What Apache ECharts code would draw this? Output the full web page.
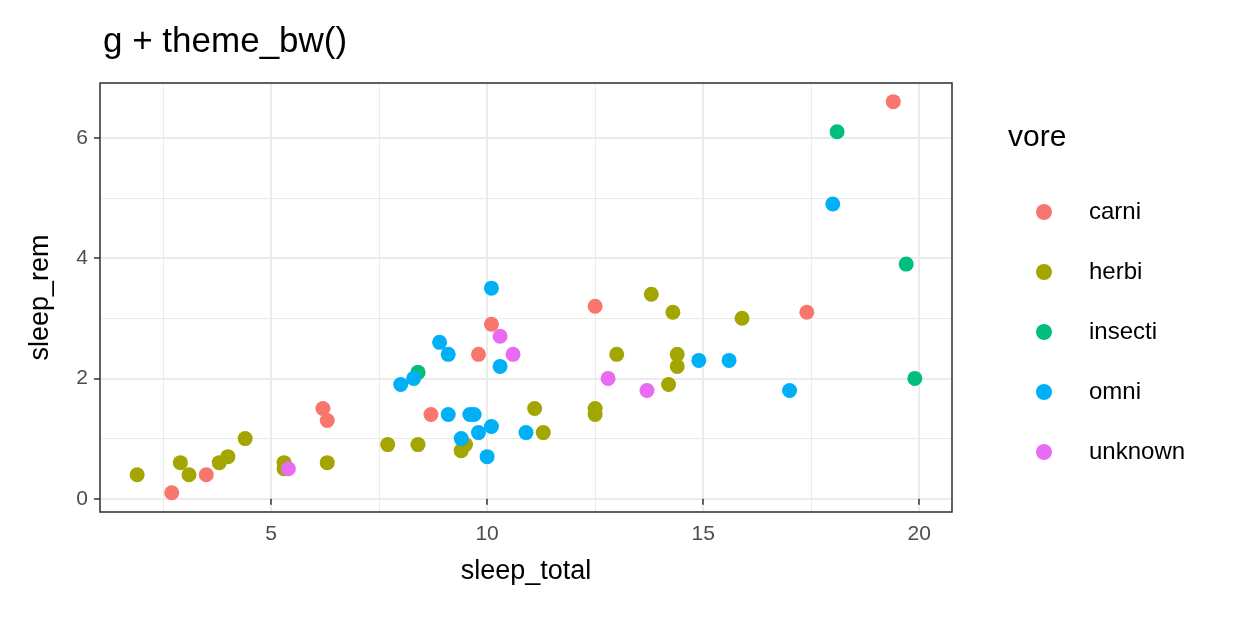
<!DOCTYPE html>
<html>
<head>
<meta charset="utf-8">
<script src="https://cdn.jsdelivr.net/npm/echarts@6/dist/echarts.min.js"></script>
<style>html,body{margin:0;background:#fff}#chart{width:1250px;height:625px}</style>
</head>
<body>
<div id="chart"></div>
<script>
// sleep_total, sleep_rem per vore group
const carni = [[2.7,0.1],[3.5,0.4],[6.2,1.5],[6.3,1.3],[8.7,1.4],[9.8,2.4],[10.1,2.9],[12.5,3.2],[17.4,3.1],[19.4,6.6]];
const herbi = [[1.9,0.4],[2.9,0.6],[3.1,0.4],[3.8,0.6],[4.0,0.7],[4.4,1.0],[5.3,0.6],[5.3,0.5],[6.3,0.6],[7.7,0.9],[8.4,0.9],[8.4,2.1],[9.4,0.8],[9.5,0.9],[11.1,1.5],[11.3,1.1],[12.5,1.5],[12.5,1.4],[13.0,2.4],[13.8,3.4],[14.2,1.9],[14.3,3.1],[14.4,2.4],[14.4,2.2],[15.9,3.0]];
const insecti = [[8.4,2.1],[18.1,6.1],[19.7,3.9],[19.9,2.0]];
const omni = [[8.0,1.9],[8.3,2.0],[8.9,2.6],[9.1,2.4],[9.1,1.4],[9.4,1.0],[9.6,1.4],[9.7,1.4],[9.8,1.1],[10.0,0.7],[10.1,1.2],[10.1,3.5],[10.3,2.2],[10.9,1.1],[14.9,2.3],[15.6,2.3],[17.0,1.8],[18.0,4.9]];
const unknown = [[5.4,0.5],[10.3,2.7],[10.6,2.4],[12.8,2.0],[13.7,1.8]];

const groups = ['carni','herbi','insecti','omni','unknown'];
const groupData = [carni, herbi, insecti, omni, unknown];
const colors = ['#F8766D','#A3A500','#00BF7D','#00B0F6','#E76BF3'];

const chart = echarts.init(document.getElementById('chart'));
const axisCommon = {
  axisLine: {show: false},
  axisTick: {show: true, inside: false, length: 6, lineStyle: {color: '#333', width: 1.5}},
  axisLabel: {color: '#4d4d4d', fontSize: 21, fontFamily: 'Liberation Sans'},
  splitLine: {lineStyle: {color: '#ebebeb', width: 2}},
  minorTick: {show: false, splitNumber: 2},
  minorSplitLine: {show: true, lineStyle: {color: '#ebebeb', width: 1}},
  nameLocation: 'middle',
  nameTextStyle: {color: '#000', fontSize: 27, fontFamily: 'Liberation Sans'}
};
chart.setOption({
  animation: false,
  textStyle: {fontFamily: 'Liberation Sans'},
  title: {text: 'g + theme_bw()', left: 98, top: 20,
    textStyle: {fontSize: 35, fontWeight: 'normal', color: '#000'}},
  grid: {left: 100, right: 298, top: 83, bottom: 113, show: true, borderColor: '#333', borderWidth: 1.5, z: 5},
  legend: {
    orient: 'vertical', left: 1031, top: 193, itemGap: 32, itemWidth: 16, itemHeight: 16,
    icon: 'circle', data: groups,
    textStyle: {fontSize: 24, color: '#000', padding: [0,0,0,32], lineHeight: 28}
  },
  graphic: [{type: 'text', left: 1008, top: 123, style: {text: 'vore', fontSize: 30, fill: '#000', fontFamily: 'Liberation Sans'}}],
  xAxis: Object.assign({}, axisCommon, {type: 'value', min: 1.04, max: 20.76, splitNumber: 4,
    name: 'sleep_total', nameGap: 46,
    axisLabel: Object.assign({}, axisCommon.axisLabel, {showMinLabel: false, showMaxLabel: false, margin: 12})}),
  yAxis: Object.assign({}, axisCommon, {type: 'value', min: -0.22, max: 6.91, splitNumber: 3,
    name: 'sleep_rem', nameGap: 46,
    axisLabel: Object.assign({}, axisCommon.axisLabel, {showMinLabel: false, showMaxLabel: false, margin: 12})}),
  series: groups.map((g, i) => ({
    name: g, type: 'scatter', data: groupData[i], symbolSize: 15,
    itemStyle: {color: colors[i], opacity: 1}
  }))
});
</script>
</body>
</html>
